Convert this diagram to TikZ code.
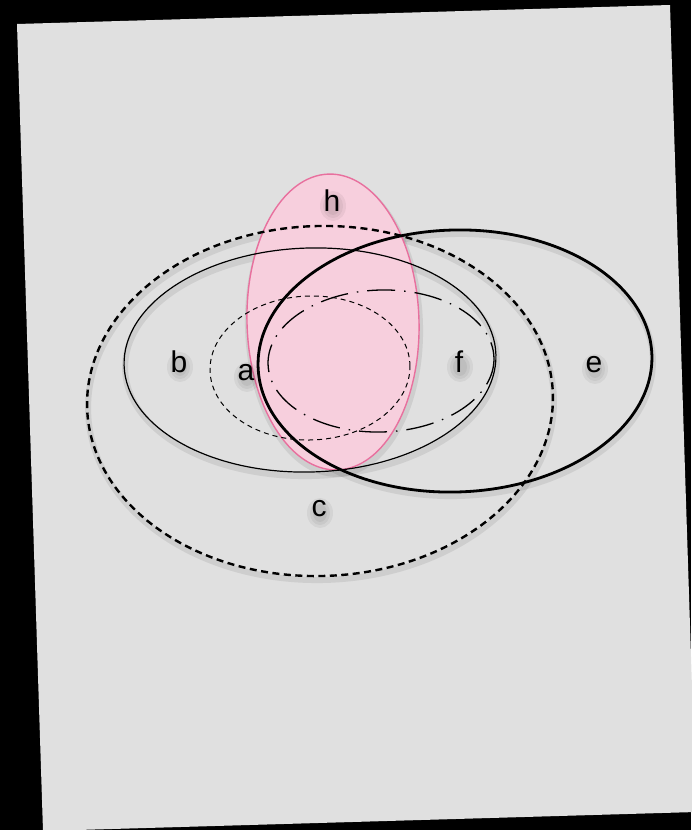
\documentclass[tikz,border=0pt]{standalone}
\usepackage{fontspec}
\setmainfont{Liberation Sans}
\definecolor{pagegray}{RGB}{224,224,224}
\definecolor{pinkfill}{RGB}{247,207,221}
\definecolor{pinkline}{RGB}{232,112,158}
\begin{document}
\begin{tikzpicture}[x=1pt,y=-1pt,
  lbl/.style={font=\fontsize{30}{34}\selectfont, text=black, inner sep=0pt, anchor=base},
  blob/.style={fill=black, fill opacity=0.05},
  shade/.style={draw=black, draw opacity=0.08, line width=6pt},
  cline/.style={draw=black, line width=2.4pt, dash pattern=on 7pt off 4.5pt},
  bline/.style={draw=black, line width=1.2pt},
  aline/.style={draw=black, line width=1pt, dash pattern=on 5pt off 4pt},
  fline/.style={draw=black, line width=1.3pt, dash pattern=on 28pt off 9pt on 1.5pt off 9pt},
  eline/.style={draw=black, line width=2.8pt},
  hline/.style={draw=pinkline, fill=pinkfill, line width=1.4pt}]
\fill[black] (0,0) rectangle (691,830);
\useasboundingbox (0,0) rectangle (691,830);
\fill[pagegray] (17,24) -- (670,5) -- (696,812) -- (43,831) -- cycle;
% soft shadows
\begin{scope}[shift={(1,4)}]
  \draw[shade, rotate around={1.7:(320,401)}] (320,401) ellipse [x radius=233, y radius=175];
  \draw[shade, rotate around={1.7:(310,360)}] (310,360) ellipse [x radius=186, y radius=112];
  \draw[shade, rotate around={1.7:(455,361)}] (455,361) ellipse [x radius=197, y radius=131];
  \draw[shade, rotate around={1.7:(333,322)}] (333,322) ellipse [x radius=86, y radius=148];
\end{scope}
% h
\draw[hline, rotate around={1.7:(333,322)}] (333,322) ellipse [x radius=86, y radius=148];
% c
\draw[cline, rotate around={1.7:(320,401)}] (320,401) ellipse [x radius=233, y radius=175];
% b
\draw[bline, rotate around={1.7:(310,360)}] (310,360) ellipse [x radius=186, y radius=112];
% a
\draw[aline, rotate around={1.7:(310,368)}] (310,368) ellipse [x radius=100, y radius=72];
% f
\draw[fline, rotate around={1.7:(381,361)}] (381,361) ellipse [x radius=113, y radius=71];
% e
\draw[eline, rotate around={1.7:(455,361)}] (455,361) ellipse [x radius=197, y radius=131];
% soft blobs under the labels
\foreach \px/\py in {332/206, 179/367, 246/377, 459/367, 594/369, 319/513}{
  \fill[blob] (\px+1,\py) ellipse [x radius=13, y radius=15];
  \fill[blob] (\px+1,\py) ellipse [x radius=10, y radius=12];
  \fill[blob] (\px+1,\py) ellipse [x radius=7, y radius=9];
}
% labels
\node[lbl] (lh) at (332,211) {h};
\node[lbl] (lb) at (179,372) {b};
\node[lbl] (la) at (246,380) {a};
\node[lbl] (lf) at (459,372) {f};
\node[lbl] (le) at (594,372) {e};
\node[lbl] (lc) at (319,516) {c};
\end{tikzpicture}
\end{document}
